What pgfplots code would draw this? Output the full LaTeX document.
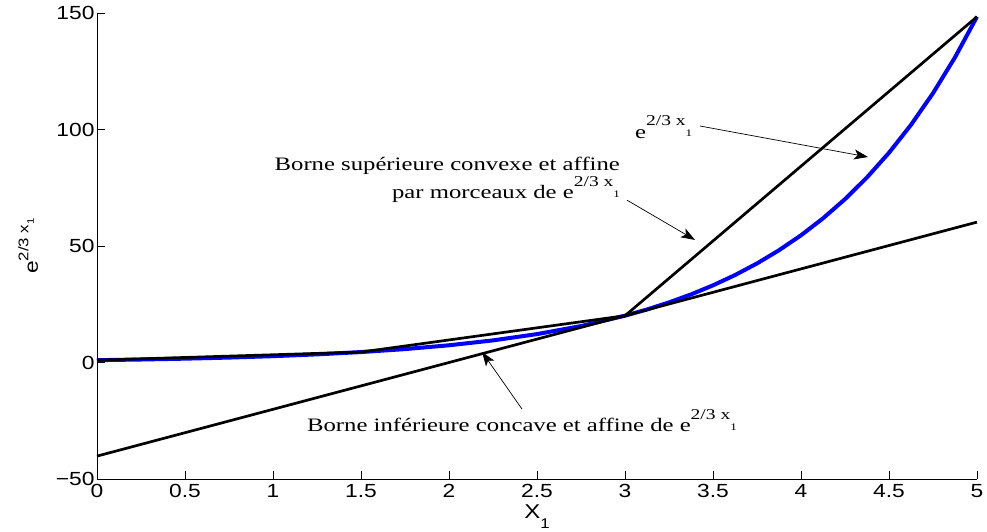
\documentclass[border=0pt]{standalone}
\usepackage{pgfplots}
\pgfplotsset{compat=1.18}
\usetikzlibrary{arrows.meta}
\usepackage{fontspec}
\setmainfont{Liberation Sans}[FakeStretch=1.2]
\newfontfamily\tms{Liberation Serif}[FakeStretch=1.3]

% e^{2/3 x_1} as written in the annotations (serif)
\newcommand\expser{e\raisebox{12.5pt}{\fontsize{15}{15}\selectfont 2/3 x\raisebox{-11pt}{\fontsize{10}{10}\selectfont 1}}}
% the same expression in the sans axis font
\newcommand\expsans{e\raisebox{9.5pt}{\fontsize{14}{14}\selectfont 2/3 x\raisebox{-5.5pt}{\fontsize{9.5}{9.5}\selectfont 1}}}

\definecolor{curveblue}{RGB}{0,0,255}

\begin{document}
\begin{tikzpicture}
\begin{axis}[
  scale only axis, width=880pt, height=466pt,
  xmin=0, xmax=5, ymin=-50, ymax=150,
  axis lines*=left,
  axis line style={line width=0.8pt, black},
  tick align=inside, major tick length=8pt,
  tick style={line width=0.8pt, black},
  xtick={0,0.5,1,1.5,2,2.5,3,3.5,4,4.5,5},
  xticklabels={0,0.5,1,1.5,2,2.5,3,3.5,4,4.5,5},
  ytick={-50,0,50,100,150},
  yticklabels={−50,0,50,100,150},
  ticklabel style={font=\fontsize{19}{19}\selectfont},
  xticklabel style={yshift=-2pt},
  yticklabel style={xshift=1pt},
  xlabel={X\raisebox{-10pt}{\fontsize{14}{14}\selectfont 1}},
  xlabel style={font=\fontsize{20}{20}\selectfont, anchor=base,
    at={(axis description cs:0.5,0)}, yshift=-39pt},
  clip=false,
]
% e^x
\addplot[curveblue, line width=4pt] coordinates {
  (0,1) (0.25,1.2840) (0.5,1.6487) (0.75,2.1170) (1,2.7183)
  (1.25,3.4903) (1.5,4.4817) (1.75,5.7546) (2,7.3891) (2.25,9.4877)
  (2.5,12.1825) (2.75,15.6426) (3,20.0855) (3.125,22.760) (3.25,25.7903)
  (3.375,29.224) (3.5,33.1155) (3.625,37.525) (3.75,42.5211) (3.875,48.183)
  (4,54.5982) (4.125,61.868) (4.25,70.1054) (4.375,79.440) (4.5,90.0171)
  (4.625,102.003) (4.75,115.5843) (4.875,130.974) (5,148.4132)
};
% piecewise affine upper bound (chords)
\addplot[black, line width=2.7pt] coordinates {
  (0,1) (1.5,4.4817) (3,20.0855) (5,148.4132)
};
% tangent at x = 3 (lower bound)
\addplot[black, line width=2.7pt] coordinates {
  (0,-40.171) (5,60.257)
};

% y axis label, written vertically
\node[rotate=90, anchor=base, inner sep=0pt, font=\fontsize{19}{19}\selectfont]
  at ([xshift=-59pt]axis description cs:0,0.5) {\expsans};

% annotations
\node[anchor=base west, inner sep=0pt, font=\tms\fontsize{19}{19}\selectfont]
  at (axis cs:3.057,96.2) {\expser};
\draw[line width=0.7pt, -{Stealth[length=14pt, width=10pt, inset=3.5pt]}]
  (axis cs:3.426,101.5) -- (axis cs:4.381,88.2);

\node[anchor=base east, inner sep=0pt, font=\tms\fontsize{19}{19}\selectfont]
  at (axis cs:2.972,82.6) {Borne supérieure convexe et affine};
\node[anchor=base east, inner sep=0pt, font=\tms\fontsize{19}{19}\selectfont]
  at (axis cs:2.972,70.2) {par morceaux de \expser};
\draw[line width=0.7pt, -{Stealth[length=14pt, width=10pt, inset=3.5pt]}]
  (axis cs:3.011,69.7) -- (axis cs:3.398,52.6);

\node[anchor=base west, inner sep=0pt, font=\tms\fontsize{19}{19}\selectfont]
  at (axis cs:1.193,-29.8) {Borne inférieure concave et affine de \expser};
\draw[line width=0.7pt, -{Stealth[length=14pt, width=10pt, inset=3.5pt]}]
  (axis cs:2.415,-20.0) -- (axis cs:2.188,4.5);
\end{axis}
\pgfresetboundingbox
\path (-97pt,-52pt) rectangle (890pt,479pt);
\end{tikzpicture}
\end{document}
